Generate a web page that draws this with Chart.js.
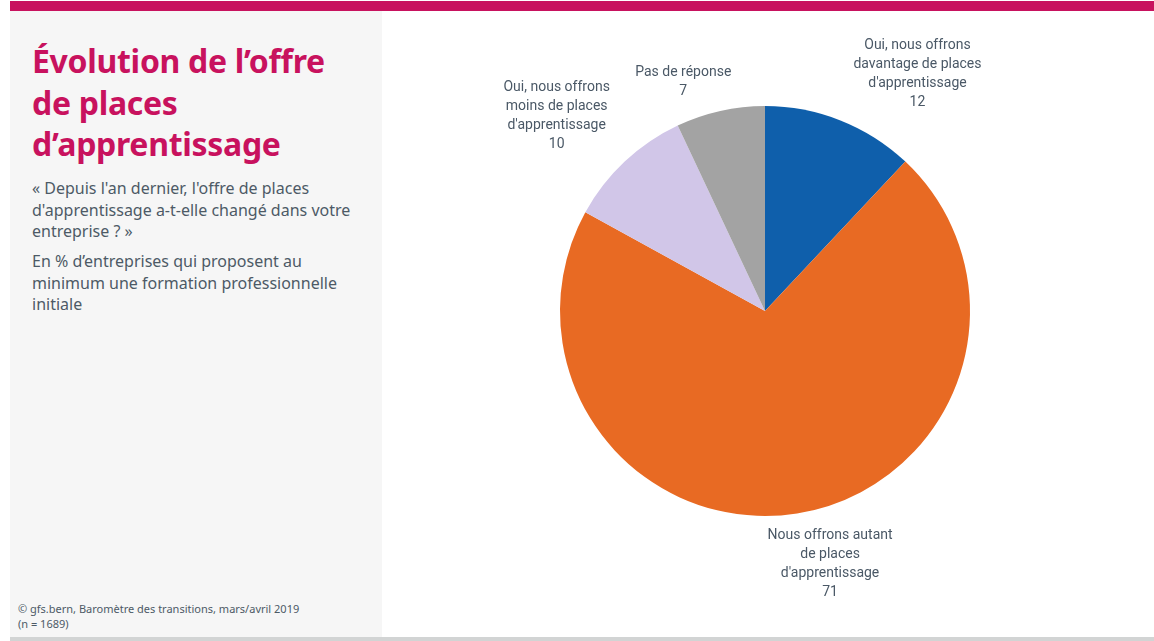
<!DOCTYPE html>
<html><head><meta charset="utf-8">
<script src="https://cdn.jsdelivr.net/npm/chart.js@4"></script>
<style>
html,body{margin:0;padding:0;background:#fff;width:1154px;height:641px;overflow:hidden;font-family:"Noto Sans","Open Sans",sans-serif}
#topbar{position:absolute;left:10px;top:1px;width:1144px;height:10px;background:#c8125e}
#panel{position:absolute;left:10px;top:11px;width:372px;height:626px;background:#f6f6f6}
#bottom{position:absolute;left:10px;top:637px;width:1144px;height:4px;background:#d2d4d4}
h1{position:absolute;left:32px;top:40px;margin:0;font-size:32px;line-height:41.5px;font-weight:700;color:#c8125e;letter-spacing:-0.3px;font-family:"Noto Sans",sans-serif}
.p{position:absolute;left:32px;margin:0;font-size:16px;line-height:21.5px;color:#4d5a66;font-family:"Noto Sans",sans-serif;width:340px}
#foot{position:absolute;left:18px;top:601px;font-size:11px;line-height:15px;color:#4d5a66;font-family:"Noto Sans",sans-serif}
#wrap{position:absolute;left:382px;top:11px;width:766px;height:600px}
</style></head>
<body>
<div id="topbar"></div><div id="panel"></div><div id="bottom"></div>
<h1>Évolution de l’offre<br>de places<br>d’apprentissage</h1>
<p class="p" style="top:178px">« Depuis l'an dernier, l'offre de places d'apprentissage a-t-elle changé dans votre entreprise ? »</p>
<p class="p" style="top:251px">En % d’entreprises qui proposent au minimum une formation professionnelle initiale</p>
<div id="foot">© gfs.bern, Baromètre des transitions, mars/avril 2019<br>(n = 1689)</div>
<div id="wrap"><canvas id="c" width="766" height="600"></canvas></div>
<script>
const categories = [
  ["Oui, nous offrons","davantage de places","d'apprentissage"],
  ["Nous offrons autant","de places","d'apprentissage"],
  ["Oui, nous offrons","moins de places","d'apprentissage"],
  ["Pas de réponse"]
];
const values = [12, 71, 10, 7];
const colors = ["#0f5fab", "#e86a23", "#d1c6e8", "#a3a3a3"];
// label offsets relative to each slice's outer mid-point (first line centre)
const labelOffsets = [[77,-75],[33,22],[-68,-74],[-37,-38]];

const labelPlugin = {
  id: 'outLabels',
  afterDatasetsDraw(chart) {
    const ctx = chart.ctx;
    const meta = chart.getDatasetMeta(0);
    ctx.save();
    ctx.font = '14px Roboto, "Noto Sans", sans-serif';
    ctx.fillStyle = '#4a5866';
    ctx.textAlign = 'center';
    ctx.textBaseline = 'middle';
    meta.data.forEach((arc, i) => {
      const p = arc.getProps(['x','y','startAngle','endAngle','outerRadius'], true);
      const mid = (p.startAngle + p.endAngle) / 2;
      const ox = p.x + Math.cos(mid) * p.outerRadius;
      const oy = p.y + Math.sin(mid) * p.outerRadius;
      const lines = categories[i].concat([String(values[i])]);
      const x = ox + labelOffsets[i][0];
      let y = oy + labelOffsets[i][1];
      lines.forEach((t, k) => ctx.fillText(t, x, y + k * 19));
    });
    ctx.restore();
  }
};

new Chart(document.getElementById('c'), {
  type: 'pie',
  data: {
    labels: categories.map(c => c.join(' ')),
    datasets: [{ data: values, backgroundColor: colors, borderWidth: 0 }]
  },
  options: {
    responsive: false,
    animation: false,
    layout: { padding: { top: 95, bottom: 95, left: 0, right: 0 } },
    plugins: { legend: { display: false }, tooltip: { enabled: false } }
  },
  plugins: [labelPlugin]
});
</script>
</body></html>
